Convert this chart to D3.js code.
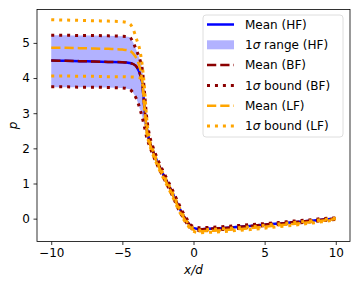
<!DOCTYPE html>
<html>
<head>
<meta charset="utf-8">
<script src="https://cdn.jsdelivr.net/npm/d3@7"></script>
<style>
  body { margin: 0; background: #fff; }
  svg text { font-family: "DejaVu Sans", sans-serif; fill: #000; }
</style>
</head>
<body>
<svg id="chart"></svg>
<script>
// x/d sample positions shared by every series
const xs = [-10, -9, -8, -7, -6, -5, -4.5, -4.25, -4, -3.75, -3.6, -3.45, -3.3, -3.1, -2.9,
  -2.5, -2, -1.5, -1, -0.5, 0, 0.5, 1, 2, 3, 4, 5, 6, 7, 8, 9, 10];

// high fidelity
const hfMean = [4.50, 4.49, 4.48, 4.47, 4.46, 4.45, 4.43, 4.40, 4.32, 4.10, 3.85, 3.15, 2.60, 2.22, 1.98,
  1.58, 1.16, 0.75, 0.31, -0.05, -0.27, -0.30, -0.29, -0.27, -0.24, -0.21, -0.17, -0.14, -0.10, -0.07, -0.03, 0.00];
const hfLower = [3.74, 3.74, 3.74, 3.74, 3.73, 3.72, 3.68, 3.58, 3.40, 3.10, 2.90, 2.65, 2.35, 2.10, 1.88,
  1.51, 1.10, 0.69, 0.25, -0.10, -0.31, -0.34, -0.33, -0.31, -0.28, -0.24, -0.20, -0.17, -0.13, -0.10, -0.06, -0.02];
const hfUpper = [5.22, 5.22, 5.21, 5.21, 5.20, 5.19, 5.17, 5.02, 4.78, 4.50, 4.25, 3.60, 2.90, 2.36, 2.08,
  1.65, 1.22, 0.81, 0.37, 0.00, -0.23, -0.26, -0.25, -0.23, -0.20, -0.18, -0.14, -0.11, -0.07, -0.04, 0.00, 0.02];

// bi-fidelity
const bfMean = [4.50, 4.49, 4.48, 4.47, 4.46, 4.45, 4.43, 4.40, 4.32, 4.10, 3.85, 3.15, 2.60, 2.22, 1.98,
  1.58, 1.16, 0.75, 0.31, -0.05, -0.27, -0.30, -0.29, -0.27, -0.24, -0.21, -0.17, -0.14, -0.10, -0.07, -0.03, 0.00];
const bfLower = [3.75, 3.75, 3.74, 3.74, 3.73, 3.72, 3.68, 3.58, 3.40, 3.10, 2.88, 2.62, 2.33, 2.08, 1.86,
  1.49, 1.08, 0.67, 0.23, -0.11, -0.31, -0.34, -0.33, -0.31, -0.28, -0.24, -0.20, -0.17, -0.13, -0.10, -0.06, -0.02];
const bfUpper = [5.22, 5.22, 5.21, 5.21, 5.20, 5.19, 5.17, 5.02, 4.78, 4.50, 4.25, 3.62, 2.92, 2.38, 2.10,
  1.67, 1.24, 0.83, 0.39, 0.01, -0.23, -0.26, -0.25, -0.23, -0.20, -0.17, -0.14, -0.11, -0.07, -0.04, 0.00, 0.02];

// low fidelity
const lfMean = [4.86, 4.86, 4.85, 4.84, 4.83, 4.81, 4.78, 4.70, 4.55, 4.25, 3.90, 3.20, 2.55, 2.17, 1.93,
  1.53, 1.11, 0.70, 0.26, -0.10, -0.32, -0.36, -0.35, -0.33, -0.30, -0.27, -0.23, -0.19, -0.15, -0.11, -0.06, -0.01];
const lfLower = [4.06, 4.06, 4.05, 4.05, 4.04, 4.04, 4.03, 4.03, 4.02, 4.00, 3.88, 3.15, 2.50, 2.12, 1.88,
  1.48, 1.06, 0.65, 0.21, -0.14, -0.36, -0.40, -0.39, -0.37, -0.34, -0.31, -0.27, -0.23, -0.19, -0.14, -0.09, -0.03];
const lfUpper = [5.66, 5.65, 5.64, 5.63, 5.62, 5.60, 5.55, 5.40, 5.10, 4.75, 4.35, 3.75, 2.90, 2.27, 2.00,
  1.59, 1.17, 0.76, 0.32, -0.06, -0.28, -0.32, -0.31, -0.29, -0.26, -0.23, -0.19, -0.15, -0.11, -0.07, -0.03, 0.01];

const xTicks = [-10, -5, 0, 5, 10];
const yTicks = [0, 1, 2, 3, 4, 5];

const width = 359, height = 284;
const margin = { top: 9.5, right: 9, bottom: 42.5, left: 37 };

const svg = d3.select('#chart').attr('width', width).attr('height', height);

const x = d3.scaleLinear().domain([-11, 11]).range([margin.left, width - margin.right]);
const y = d3.scaleLinear().domain([-0.65, 5.95]).range([height - margin.bottom, margin.top]);

const pts = (arr) => xs.map((v, i) => [v, arr[i]]);

const line = d3.line()
  .x(d => x(d[0]))
  .y(d => y(d[1]))
  .curve(d3.curveMonotoneX);

const area = d3.area()
  .x((d, i) => x(xs[i]))
  .y0((d, i) => y(hfLower[i]))
  .y1((d, i) => y(hfUpper[i]))
  .curve(d3.curveMonotoneX);

const plot = svg.append('g');

// 1 sigma band (HF)
plot.append('path')
  .attr('d', area(xs))
  .attr('fill', '#0000ff')
  .attr('fill-opacity', 0.3);

const series = [
  { data: hfMean, color: '#0000ff', dash: null },
  { data: bfMean, color: '#8b0000', dash: '9.25,4' },
  { data: bfLower, color: '#8b0000', dash: '3,4.95' },
  { data: bfUpper, color: '#8b0000', dash: '3,4.95' },
  { data: lfMean, color: '#ffa500', dash: '9.25,4' },
  { data: lfLower, color: '#ffa500', dash: '3,4.95' },
  { data: lfUpper, color: '#ffa500', dash: '3,4.95' },
];

series.forEach(s => {
  plot.append('path')
    .attr('d', line(pts(s.data)))
    .attr('fill', 'none')
    .attr('stroke', s.color)
    .attr('stroke-width', s.dash && s.dash.startsWith('3') ? 3 : 2.5)
    .attr('stroke-dasharray', s.dash);
});

// axes
const xAxis = d3.axisBottom(x).tickValues(xTicks).tickSize(3.5).tickPadding(3.5).tickSizeOuter(0);
const yAxis = d3.axisLeft(y).tickValues(yTicks).tickFormat(d3.format('d'))
  .tickSize(3.5).tickPadding(3.5).tickSizeOuter(0);

const xAxisG = svg.append('g')
  .attr('transform', `translate(0,${height - margin.bottom})`)
  .call(xAxis);
const yAxisG = svg.append('g')
  .attr('transform', `translate(${margin.left},0)`)
  .call(yAxis);

[xAxisG, yAxisG].forEach(g => {
  g.select('.domain').remove();
  g.selectAll('.tick line').attr('stroke', '#000').attr('stroke-width', 0.8);
  g.selectAll('.tick text').attr('font-size', 12).attr('font-family', 'DejaVu Sans').attr('fill', '#000');
});

// frame
svg.append('rect')
  .attr('x', margin.left)
  .attr('y', margin.top)
  .attr('width', width - margin.right - margin.left)
  .attr('height', height - margin.bottom - margin.top)
  .attr('fill', 'none')
  .attr('stroke', '#000')
  .attr('stroke-width', 0.8);

// axis labels
svg.append('text')
  .attr('x', (margin.left + width - margin.right) / 2)
  .attr('y', 274)
  .attr('text-anchor', 'middle')
  .attr('font-size', 12)
  .attr('font-style', 'italic')
  .text('x/d');

svg.append('text')
  .attr('transform', `translate(17,${(margin.top + height - margin.bottom) / 2}) rotate(-90)`)
  .attr('text-anchor', 'middle')
  .attr('font-size', 12)
  .attr('font-style', 'italic')
  .text('p');

// legend
const legend = svg.append('g').attr('transform', 'translate(203,15)');
legend.append('rect')
  .attr('width', 140)
  .attr('height', 122)
  .attr('rx', 3)
  .attr('fill', '#fff')
  .attr('fill-opacity', 0.8)
  .attr('stroke', '#d6d6d6')
  .attr('stroke-width', 0.8);

const legendItems = [
  { label: ['Mean (HF)'], color: '#0000ff', kind: 'solid' },
  { label: ['1', 'σ', ' range (HF)'], color: '#0000ff', kind: 'fill' },
  { label: ['Mean (BF)'], color: '#8b0000', kind: 'dash' },
  { label: ['1', 'σ', ' bound (BF)'], color: '#8b0000', kind: 'dot' },
  { label: ['Mean (LF)'], color: '#ffa500', kind: 'dash' },
  { label: ['1', 'σ', ' bound (LF)'], color: '#ffa500', kind: 'dot' },
];

legendItems.forEach((d, i) => {
  const cy = 9.5 + i * 20.3;
  if (d.kind === 'fill') {
    legend.append('rect')
      .attr('x', 4).attr('y', cy - 4.5)
      .attr('width', 27).attr('height', 9)
      .attr('fill', d.color).attr('fill-opacity', 0.3);
  } else {
    legend.append('line')
      .attr('x1', 4).attr('x2', 31)
      .attr('y1', cy).attr('y2', cy)
      .attr('stroke', d.color)
      .attr('stroke-width', d.kind === 'dot' ? 3 : 2.5)
      .attr('stroke-dasharray', d.kind === 'dash' ? '9.25,4' : d.kind === 'dot' ? '3,4.95' : null);
  }
  const t = legend.append('text')
    .attr('x', 42)
    .attr('y', cy + 4.3)
    .attr('font-size', 12);
  d.label.forEach(part => {
    t.append('tspan')
      .attr('font-style', part === 'σ' ? 'italic' : 'normal')
      .text(part);
  });
});
</script>
</body>
</html>
